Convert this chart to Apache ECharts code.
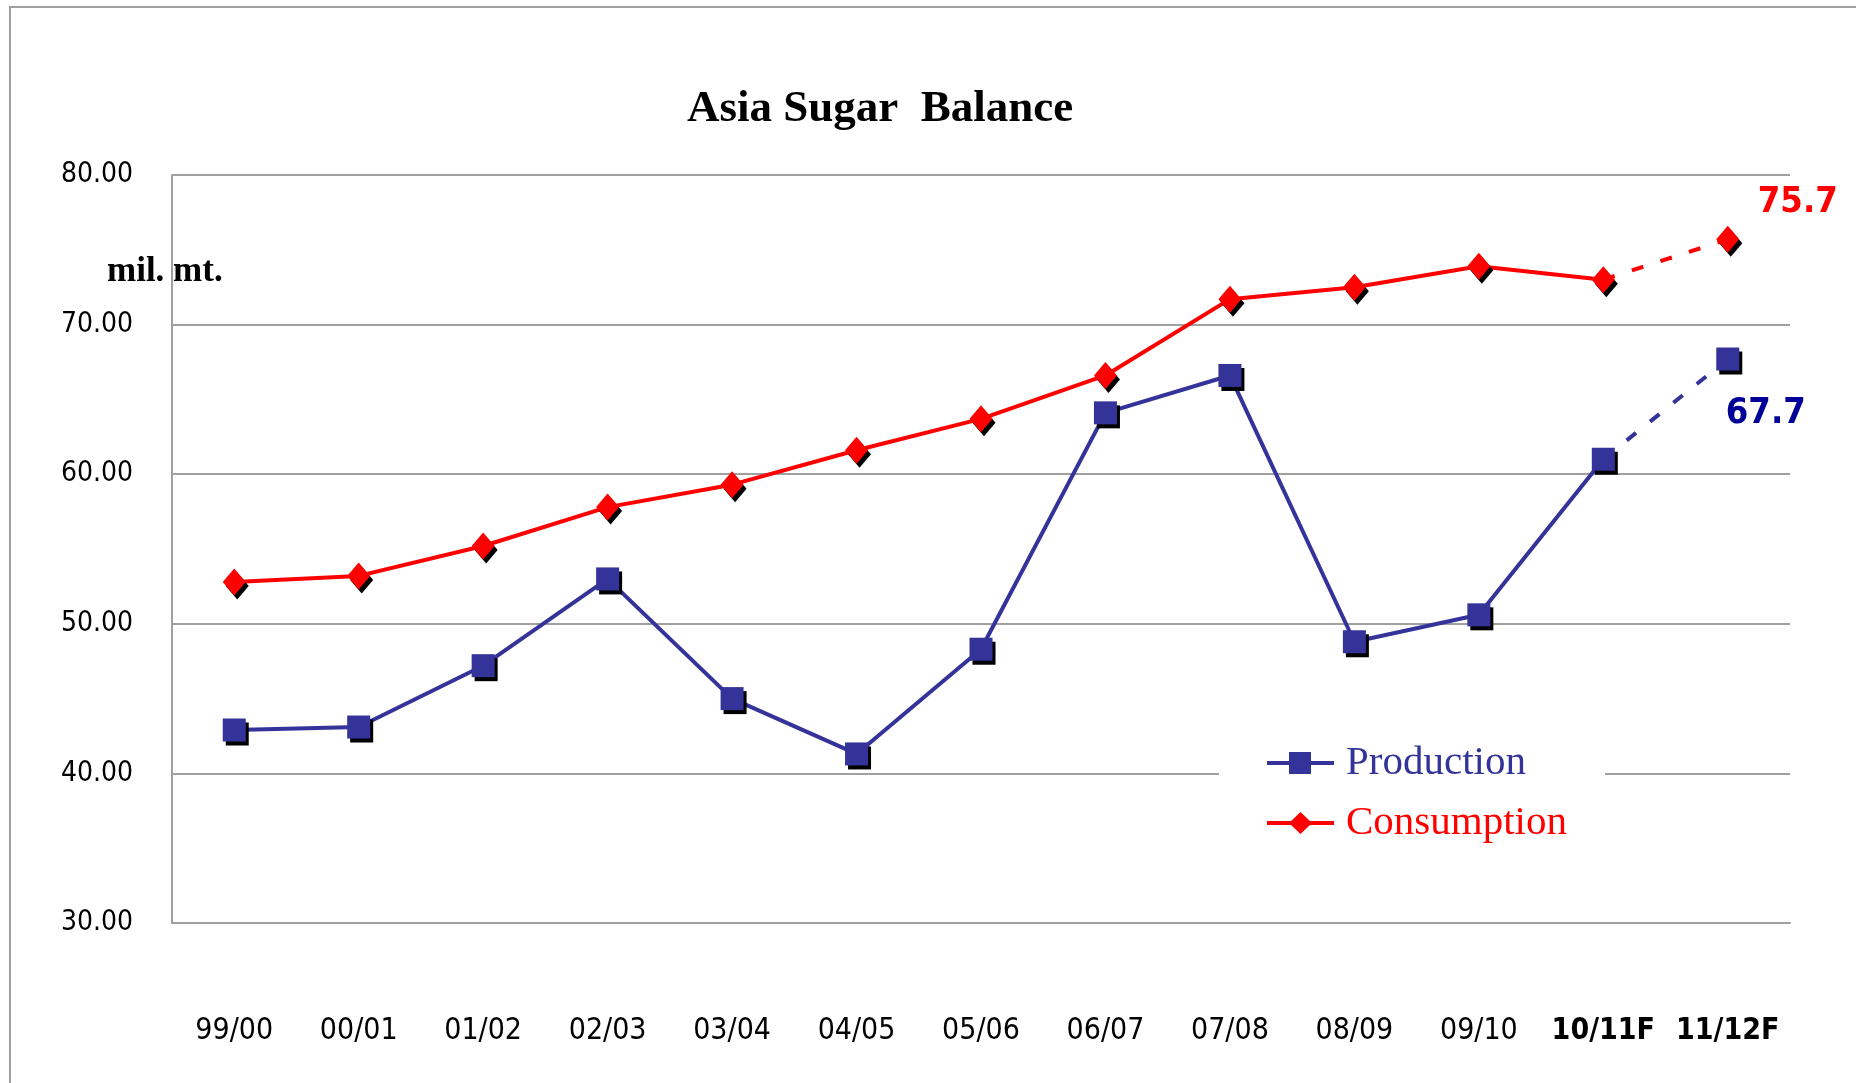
<!DOCTYPE html>
<html>
<head>
<meta charset="utf-8">
<title>Asia Sugar Balance</title>
<script src="https://cdn.jsdelivr.net/npm/echarts@6/dist/echarts.min.js"></script>
<style>
  html, body { margin: 0; padding: 0; background: #fff; }
  #chart { width: 1856px; height: 1083px; }
</style>
</head>
<body>
<div id="chart"></div>
<script>
// crop years, last two are forecasts
var seasons = ['99/00', '00/01', '01/02', '02/03', '03/04', '04/05', '05/06',
               '06/07', '07/08', '08/09', '09/10', '10/11F', '11/12F'];
var production = [42.9, 43.1, 47.2, 53.0, 45.0, 41.3, 48.3, 64.1, 66.6, 48.8, 50.6, 61.0, 67.7];
var consumption = [52.8, 53.2, 55.2, 57.8, 59.3, 61.6, 63.7, 66.6, 71.7, 72.5, 73.9, 73.0, 75.7];
var yTicks = [30, 40, 50, 60, 70, 80];

var BLUE = '#333399', RED = '#ff0000';
var narrow = "'DejaVu Sans Condensed', 'Liberation Sans', sans-serif";
var serif = "'Liberation Serif', 'DejaVu Serif', serif";

var last = seasons.length - 1;

// solid part: everything up to 10/11F
function solidPart(arr) {
    return arr.map(function (v, i) { return i < last ? v : '-'; });
}
// dashed forecast part: 10/11F -> 11/12F
function dashPart(arr, label) {
    return arr.map(function (v, i) {
        if (i < last - 1) return '-';
        if (i === last - 1) return { value: v, symbol: 'none' };
        return { value: v, label: label };
    });
}

var shadow = { shadowColor: '#000', shadowOffsetX: 3, shadowOffsetY: 4, shadowBlur: 0 };

// legend icons: a bar with the marker on it
var squareIcon = 'path://M0,9H67V13H0Z M22,0H44V22H22Z';
var diamondIcon = 'path://M0,9H67V13H0Z M33.5,0L45,11L33.5,22L22,11Z';

var chart = echarts.init(document.getElementById('chart'));

chart.setOption({
    backgroundColor: '#fff',
    animation: false,
    title: {
        text: 'Asia Sugar  Balance',
        left: 682,
        top: 82,
        textStyle: { fontFamily: serif, fontWeight: 'bold', fontSize: 45, color: '#000' }
    },
    graphic: [
        {
            type: 'polyline',
            shape: { points: [[10, 1083], [10, 7], [1856, 7]] },
            style: { stroke: '#a0a0a0', lineWidth: 2, fill: null }
        },
        {
            type: 'text',
            left: 107,
            top: 254,
            style: { text: 'mil. mt.', fontFamily: serif, fontWeight: 'bold', fontSize: 35, fill: '#000' }
        }
    ],
    legend: {
        orient: 'vertical',
        left: 1219,
        top: 732,
        padding: [10, 38, 12, 48],
        backgroundColor: '#fff',
        itemWidth: 67,
        itemHeight: 24,
        itemGap: 18,
        itemStyle: { shadowColor: 'transparent' },
        textStyle: { fontFamily: serif, fontSize: 41, lineHeight: 42, padding: [0, 0, 0, 7] },
        data: [
            { name: 'Production', icon: squareIcon, textStyle: { color: BLUE } },
            { name: 'Consumption', icon: diamondIcon, textStyle: { color: RED } }
        ]
    },
    grid: { left: 172, right: 66, top: 175, bottom: 160 },
    xAxis: {
        type: 'category',
        data: seasons,
        boundaryGap: true,
        axisLine: { lineStyle: { color: '#a0a0a0', width: 2 } },
        axisTick: { show: false },
        axisLabel: {
            interval: 0,
            margin: 93,
            fontFamily: narrow,
            fontSize: 30,
            color: '#000',
            formatter: function (v) {
                return v.slice(-1) === 'F' ? '{f|' + v + '}' : v;
            },
            rich: { f: { fontFamily: narrow, fontSize: 30, fontWeight: 'bold', color: '#000' } }
        }
    },
    yAxis: {
        type: 'value',
        min: yTicks[0],
        max: yTicks[yTicks.length - 1],
        interval: 10,
        axisLine: { show: true, lineStyle: { color: '#a0a0a0', width: 2 } },
        axisTick: { show: false },
        splitLine: { lineStyle: { color: '#a0a0a0', width: 2 } },
        axisLabel: {
            margin: 39,
            padding: [7, 0, 0, 0],
            fontFamily: narrow,
            fontSize: 28,
            color: '#000',
            formatter: function (v) { return v.toFixed(2); }
        }
    },
    series: [
        {
            name: 'Production',
            type: 'line',
            data: solidPart(production),
            symbol: 'rect',
            symbolSize: 23,
            lineStyle: { color: BLUE, width: 4 },
            itemStyle: Object.assign({ color: BLUE }, shadow),
            z: 3
        },
        {
            name: 'Consumption',
            type: 'line',
            data: solidPart(consumption),
            symbol: 'diamond',
            symbolSize: [23, 27],
            lineStyle: { color: RED, width: 4 },
            itemStyle: Object.assign({ color: RED }, shadow),
            z: 3
        },
        {
            name: 'Production forecast',
            type: 'line',
            data: dashPart(production, {
                show: true,
                formatter: '{c}',
                position: 'bottom',
                offset: [38, 20],
                fontFamily: narrow,
                fontWeight: 'bold',
                fontSize: 36,
                color: '#000099'
            }),
            symbol: 'rect',
            symbolSize: 23,
            lineStyle: { color: BLUE, width: 4, type: [12, 18] },
            itemStyle: Object.assign({ color: BLUE }, shadow),
            z: 3
        },
        {
            name: 'Consumption forecast',
            type: 'line',
            data: dashPart(consumption, {
                show: true,
                formatter: '{c}',
                position: 'top',
                offset: [70, 0],
                fontFamily: narrow,
                fontWeight: 'bold',
                fontSize: 36,
                color: RED
            }),
            symbol: 'diamond',
            symbolSize: [23, 27],
            lineStyle: { color: RED, width: 4, type: [12, 18] },
            itemStyle: Object.assign({ color: RED }, shadow),
            z: 3
        }
    ]
});
</script>
</body>
</html>
